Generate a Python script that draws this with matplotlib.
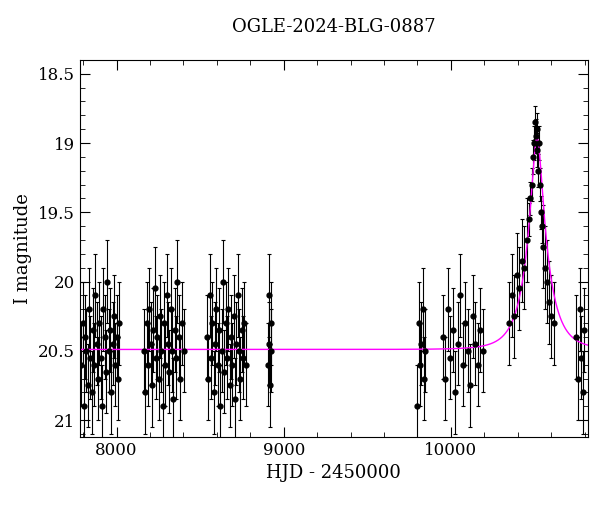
import numpy as np
import matplotlib.pyplot as plt
from matplotlib.ticker import MultipleLocator

# observed points per season: HJD-2450000, I mag
hjd_s1 = [7790, 7798, 7805, 7812, 7820, 7828, 7835, 7843, 7850, 7858, 7866, 7873, 7881, 7889, 7896,
          7904, 7912, 7920, 7928, 7936, 7944, 7952, 7960, 7968, 7976, 7984, 7992, 8000, 8008, 8016]
mag_s1 = [20.6, 20.3, 20.9, 20.4, 20.5, 20.75, 20.2, 20.55, 20.8, 20.35, 20.6, 20.1, 20.45, 20.7, 20.3,
          20.55, 20.9, 20.2, 20.4, 20.65, 20.0, 20.5, 20.35, 20.8, 20.45, 20.25, 20.6, 20.4, 20.7, 20.3]
hjd_s2 = [8165, 8172, 8180, 8188, 8196, 8204, 8212, 8220, 8228, 8236, 8244, 8252, 8260, 8268, 8276,
          8284, 8292, 8300, 8308, 8316, 8324, 8332, 8340, 8348, 8356, 8364, 8372, 8380, 8390, 8405]
mag_s2 = [20.5, 20.8, 20.3, 20.6, 20.2, 20.45, 20.75, 20.35, 20.05, 20.55, 20.4, 20.7, 20.25, 20.5, 20.9,
          20.3, 20.6, 20.1, 20.45, 20.65, 20.2, 20.5, 20.85, 20.35, 20.55, 20.0, 20.4, 20.7, 20.3, 20.5]
hjd_s3 = [8540, 8548, 8556, 8564, 8572, 8580, 8588, 8596, 8604, 8612, 8620, 8628, 8636, 8644, 8652,
          8660, 8668, 8676, 8684, 8692, 8700, 8708, 8716, 8724, 8732, 8740, 8748, 8756, 8764, 8772]
mag_s3 = [20.4, 20.7, 20.1, 20.55, 20.3, 20.8, 20.45, 20.2, 20.6, 20.35, 20.9, 20.5, 20.0, 20.65, 20.3,
          20.55, 20.2, 20.75, 20.4, 20.6, 20.25, 20.85, 20.45, 20.1, 20.5, 20.7, 20.35, 20.55, 20.3, 20.6]
hjd_s4 = [8905, 8910, 8914, 8918, 8922, 8926]
mag_s4 = [20.6, 20.1, 20.45, 20.75, 20.3, 20.5]
hjd_s5 = [9800, 9808, 9815, 9822, 9830, 9838, 9845]
mag_s5 = [20.9, 20.3, 20.6, 20.45, 20.2, 20.7, 20.5]
hjd_s6 = [9950, 9965, 9980, 9995, 10010, 10025, 10040, 10055, 10070, 10085, 10100, 10115, 10130,
          10145, 10160, 10175, 10190]
mag_s6 = [20.4, 20.7, 20.2, 20.55, 20.35, 20.8, 20.45, 20.1, 20.6, 20.3, 20.5, 20.75, 20.25, 20.45,
          20.6, 20.35, 20.5]
hjd_s7 = [10350, 10365, 10380, 10395, 10410, 10425, 10440, 10455, 10465, 10475, 10485, 10492, 10498,
          10503, 10508, 10512, 10516, 10520, 10525, 10530, 10536, 10542, 10550, 10560, 10572, 10585,
          10600, 10615]
mag_s7 = [20.3, 20.1, 20.25, 19.95, 20.05, 19.85, 19.9, 19.7, 19.55, 19.4, 19.3, 19.1, 19.0, 18.85,
          18.95, 18.9, 19.05, 19.2, 19.0, 19.3, 19.5, 19.6, 19.75, 19.9, 20.0, 20.15, 20.25, 20.3]
hjd_s8 = [10750, 10760, 10770, 10780, 10790, 10798]
mag_s8 = [20.4, 20.7, 20.2, 20.55, 20.8, 20.35]

# point-lens model parameters
t0 = 10515.0
t_e = 120.0
u0 = 0.25
baseline = 20.49

hjd = np.array(hjd_s1 + hjd_s2 + hjd_s3 + hjd_s4 + hjd_s5 + hjd_s6 + hjd_s7 + hjd_s8, dtype=float)
mag = np.array(mag_s1 + mag_s2 + mag_s3 + mag_s4 + mag_s5 + mag_s6 + mag_s7 + mag_s8)
err = np.where(mag > 19.6, 0.3, 0.12)

t = np.linspace(7780, 10820, 2000)
u = np.sqrt(u0 ** 2 + ((t - t0) / t_e) ** 2)
amp = (u ** 2 + 2) / (u * np.sqrt(u ** 2 + 4))
model = baseline - 2.5 * np.log10(amp)

plt.rcParams['font.family'] = 'DejaVu Serif'
fig = plt.figure(figsize=(6, 5.12), dpi=100)
ax = fig.add_axes([0.133, 0.147, 0.847, 0.736])

ax.errorbar(hjd, mag, yerr=err, fmt='o', color='black', markersize=3.5,
            elinewidth=0.8, capsize=1.5, capthick=0.8)
ax.plot(t, model, color='magenta', linewidth=1)

ax.set_xlim(7780, 10820)
ax.set_ylim(21.12, 18.4)
ax.xaxis.set_major_locator(MultipleLocator(1000))
ax.xaxis.set_minor_locator(MultipleLocator(200))
ax.yaxis.set_major_locator(MultipleLocator(0.5))
ax.yaxis.set_minor_locator(MultipleLocator(0.1))
ax.yaxis.set_major_formatter(plt.FuncFormatter(lambda v, p: f'{v:g}'))
ax.tick_params(which='both', direction='in', top=True, right=True, labelsize=12)
ax.tick_params(which='major', length=7)
ax.tick_params(which='minor', length=3.5)

ax.set_xlabel('HJD - 2450000', fontsize=13)
ax.set_ylabel('I magnitude', fontsize=13)
ax.set_title('OGLE-2024-BLG-0887', fontsize=13, pad=20)

fig.savefig('out.png')
